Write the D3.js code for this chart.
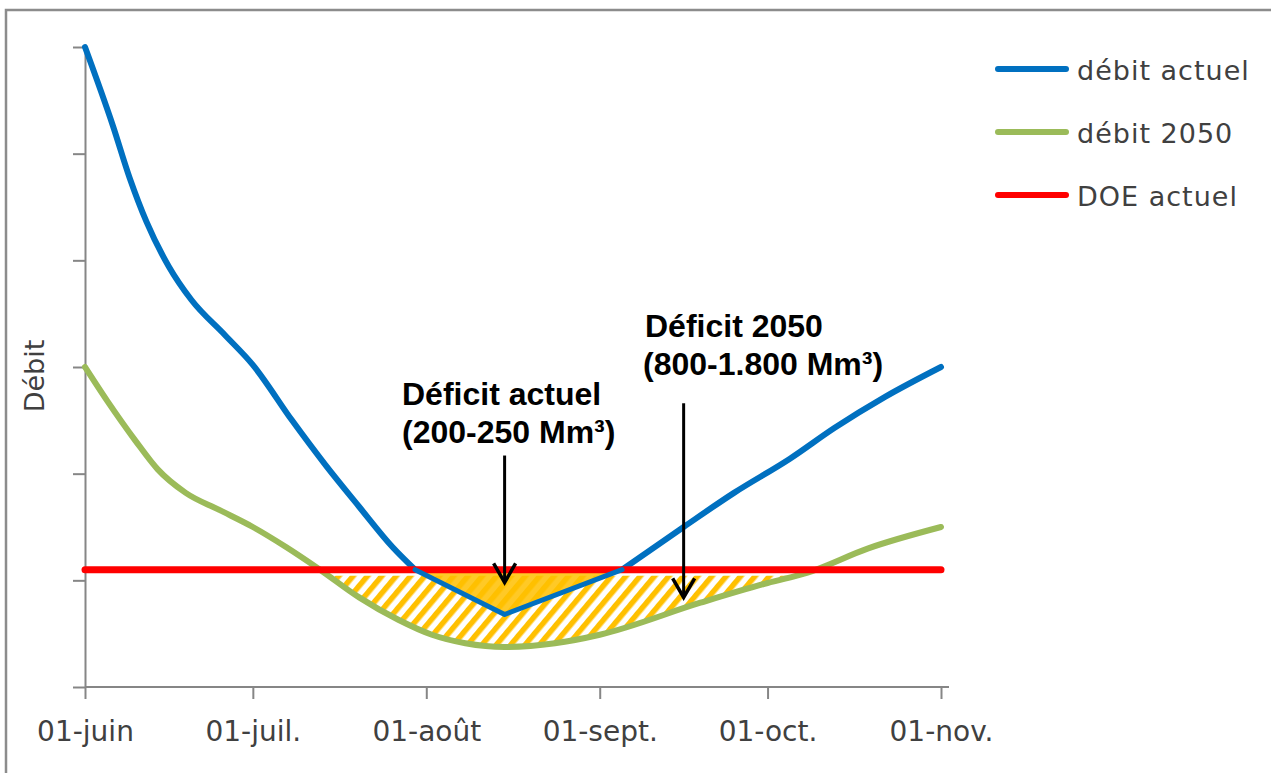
<!DOCTYPE html>
<html>
<head>
<meta charset="utf-8">
<script src="https://d3js.org/d3.v7.min.js"></script>
<style>
  body { margin: 0; background: #fff; }
</style>
</head>
<body>
<script>
// ---- data ----
var monthStarts = ["2019-06-01", "2019-07-01", "2019-08-01", "2019-09-01", "2019-10-01", "2019-11-01"];
var monthLabels = ["01-juin", "01-juil.", "01-août", "01-sept.", "01-oct.", "01-nov."];
var yTicks = [0, 1, 2, 3, 4, 5, 6];

var blueDates = ["2019-06-01", "2019-06-06", "2019-06-09", "2019-06-12", "2019-06-16", "2019-06-20",
                 "2019-06-26", "2019-07-01", "2019-07-08", "2019-07-14", "2019-07-20", "2019-07-26",
                 "2019-07-30", "2019-08-15", "2019-09-05", "2019-09-16", "2019-09-25", "2019-10-05",
                 "2019-10-13", "2019-10-22", "2019-11-01"];
var blueValues = [6.00, 5.26, 4.77, 4.36, 3.94, 3.63,
                  3.30, 3.02, 2.50, 2.08, 1.69, 1.31,
                  1.10, 0.68, 1.10, 1.50, 1.82, 2.14,
                  2.43, 2.72, 3.00];

var greenDates = ["2019-06-01", "2019-06-05", "2019-06-10", "2019-06-14", "2019-06-19", "2019-06-25",
                  "2019-07-01", "2019-07-07", "2019-07-13", "2019-07-20", "2019-07-27", "2019-08-02",
                  "2019-08-08", "2019-08-15", "2019-08-24", "2019-09-01", "2019-09-19", "2019-10-01",
                  "2019-10-08", "2019-10-19", "2019-11-01"];
var greenValues = [3.00, 2.68, 2.31, 2.04, 1.82, 1.66,
                   1.50, 1.31, 1.10, 0.84, 0.63, 0.49,
                   0.41, 0.375, 0.41, 0.49, 0.79, 0.975,
                   1.07, 1.30, 1.50];

var doeDates = ["2019-06-01", "2019-11-01"];
var doeValue = 1.1;

// the straight "V" of the current deficit, between these two blue points
var kinkFrom = "2019-07-30", kinkTo = "2019-09-05";

// arrows: date, start value, tip value
var arrowDates = ["2019-08-15", "2019-09-16"];
var arrowFrom = [2.17, 2.66];
var arrowTo = [0.98, 0.84];

var seriesNames = ["débit actuel", "débit 2050", "DOE actuel"];
var seriesColors = ["#0070C0", "#9BBB59", "#FF0000"];

// ---- setup ----
var parse = d3.utcParse("%Y-%m-%d");
var width = 1271, height = 773;

var svg = d3.select("body").append("svg")
    .attr("width", width)
    .attr("height", height);

// outer frame
svg.append("rect")
    .attr("x", 6).attr("y", 10)
    .attr("width", 1300).attr("height", 800)
    .attr("fill", "none")
    .attr("stroke", "#8c8c8c")
    .attr("stroke-width", 2.5);

var x = d3.scaleUtc()
    .domain([parse(monthStarts[0]), parse(monthStarts[monthStarts.length - 1])])
    .range([85, 941]);
var y = d3.scaleLinear().domain([0, 6]).range([687, 47]);

var blue = blueDates.map(function(d, i) { return {date: parse(d), value: blueValues[i]}; });
var green = greenDates.map(function(d, i) { return {date: parse(d), value: greenValues[i]}; });
var doe = doeDates.map(function(d) { return {date: parse(d), value: doeValue}; });

var k1 = blueDates.indexOf(kinkFrom), k2 = blueDates.indexOf(kinkTo);

var defs = svg.append("defs");
defs.append("pattern")
    .attr("id", "hatch")
    .attr("patternUnits", "userSpaceOnUse")
    .attr("width", 11).attr("height", 11)
    .attr("patternTransform", "rotate(40)")
  .append("rect")
    .attr("width", 5.5).attr("height", 11)
    .attr("fill", "#FFC000");
defs.append("clipPath").attr("id", "belowDoe")
  .append("rect")
    .attr("x", 0).attr("y", y(doeValue) + 6)
    .attr("width", width).attr("height", height);

// ---- axes ----
var axisColor = "#868686";
var gy = svg.append("g")
    .attr("transform", "translate(" + x.range()[0] + ",0)")
    .call(d3.axisLeft(y).tickValues(yTicks).tickFormat("").tickSize(12).tickSizeOuter(0));
gy.select(".domain").attr("stroke", axisColor).attr("stroke-width", 2);
gy.selectAll(".tick line").attr("stroke", axisColor).attr("stroke-width", 2);

var gx = svg.append("g")
    .attr("transform", "translate(0," + y(0) + ")")
    .call(d3.axisBottom(x)
        .tickValues(monthStarts.map(parse))
        .tickFormat(function(d, i) { return monthLabels[i]; })
        .tickSize(12).tickPadding(22));
gx.select(".domain").remove();
gx.append("line")
    .attr("x1", x.range()[0]).attr("x2", x.range()[1] + 8)
    .attr("stroke", axisColor).attr("stroke-width", 2);
gx.selectAll(".tick line").attr("stroke", axisColor).attr("stroke-width", 2);
gx.selectAll(".tick text")
    .attr("fill", "#404040")
    .style("font-family", "DejaVu Sans")
    .style("font-size", "28px");

svg.append("text")
    .attr("transform", "translate(44,376)rotate(-90)")
    .attr("text-anchor", "middle")
    .attr("fill", "#404040")
    .style("font-family", "DejaVu Sans")
    .style("font-size", "27px")
    .text("Débit");

// ---- deficit areas ----
var clip = svg.append("g").attr("clip-path", "url(#belowDoe)");
clip.append("path")
    .datum(green)
    .attr("fill", "url(#hatch)")
    .attr("d", d3.area().curve(d3.curveMonotoneX)
        .x(function(d) { return x(d.date); })
        .y0(y(doeValue))
        .y1(function(d) { return y(d.value); }));

svg.append("path")
    .datum(blue.slice(k1, k2 + 1))
    .attr("fill", "#FFC000")
    .attr("fill-opacity", 0.85)
    .attr("d", d3.area()
        .x(function(d) { return x(d.date); })
        .y0(y(doeValue))
        .y1(function(d) { return y(d.value); }));

// ---- lines ----
var lineMono = d3.line().curve(d3.curveMonotoneX)
    .x(function(d) { return x(d.date); })
    .y(function(d) { return y(d.value); });
var lineStraight = d3.line()
    .x(function(d) { return x(d.date); })
    .y(function(d) { return y(d.value); });

function stroke(sel, color, w) {
  return sel.attr("fill", "none").attr("stroke", color).attr("stroke-width", w)
    .attr("stroke-linecap", "round").attr("stroke-linejoin", "round");
}

stroke(svg.append("path").datum(blue.slice(0, k1 + 1)).attr("d", lineMono), seriesColors[0], 6);
stroke(svg.append("path").datum(blue.slice(k2)).attr("d", lineMono), seriesColors[0], 6);
stroke(svg.append("path").datum(green).attr("d", lineMono), seriesColors[1], 6);
stroke(svg.append("path").datum(doe).attr("d", lineStraight), seriesColors[2], 7);
stroke(svg.append("path").datum(blue.slice(k1, k2 + 1)).attr("d", lineStraight), seriesColors[0], 5);

// ---- arrows ----
arrowDates.forEach(function(d, i) {
  var ax = x(parse(d)), y1 = y(arrowFrom[i]), y2 = y(arrowTo[i]);
  svg.append("line")
      .attr("x1", ax).attr("x2", ax).attr("y1", y1).attr("y2", y2 - 2)
      .attr("stroke", "#000").attr("stroke-width", 3);
  svg.append("path")
      .attr("d", "M" + (ax - 11) + "," + (y2 - 19) + "L" + ax + "," + y2 + "L" + (ax + 11) + "," + (y2 - 19))
      .attr("fill", "none").attr("stroke", "#000").attr("stroke-width", 3.5);
});

// ---- annotation text ----
var notes = [
  {x: 402, y: 405, text: "Déficit actuel"},
  {x: 402, y: 443, text: "(200-250 Mm³)"},
  {x: 645, y: 337, text: "Déficit 2050"},
  {x: 643, y: 375, text: "(800-1.800 Mm³)"}
];
svg.selectAll(".note").data(notes).enter().append("text")
    .attr("class", "note")
    .attr("x", function(d) { return d.x; })
    .attr("y", function(d) { return d.y; })
    .style("font-family", "Liberation Sans, Arial, sans-serif")
    .style("font-weight", "bold")
    .style("font-size", "32px")
    .text(function(d) { return d.text; });

// ---- legend ----
var legend = svg.selectAll(".legend").data(seriesNames).enter().append("g")
    .attr("class", "legend")
    .attr("transform", function(d, i) { return "translate(998," + (69 + i * 63) + ")"; });
legend.append("line")
    .attr("x1", 0).attr("x2", 68)
    .attr("stroke", function(d, i) { return seriesColors[i]; })
    .attr("stroke-width", 6)
    .attr("stroke-linecap", "round");
legend.append("text")
    .attr("x", 79).attr("y", 11)
    .attr("fill", "#404040")
    .style("font-family", "DejaVu Sans")
    .style("font-size", "27px")
    .style("letter-spacing", "1px")
    .text(function(d) { return d; });
</script>
</body>
</html>
